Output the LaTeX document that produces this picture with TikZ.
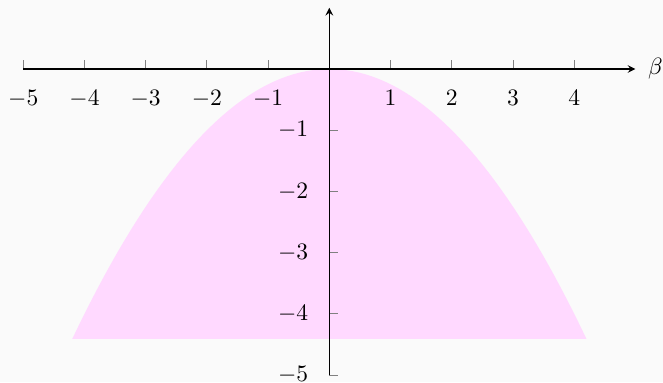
\documentclass[tikz,border=0pt]{standalone}
\usepackage{amsmath}
\usepackage{amssymb}
\usepackage{tikz}
\definecolor{bgcol}{HTML}{FAFAFA}
\definecolor{regioncol}{HTML}{FFD9FF}

\begin{document}
\begin{tikzpicture}
\fontsize{11}{13}\selectfont
\fill[bgcol] (-5.38,-5.114) rectangle (5.45,1.127);
\useasboundingbox (-5.38,-5.114) rectangle (5.45,1.127);
\fill[regioncol] (-4.2,-4.41) -- plot[domain=-4.2:4.2,samples=80] (\x,{-\x*\x/4}) -- cycle; % region under the parabola
\draw[gray] (-5,0) -- (-5,0.14) (-4,0) -- (-4,0.14) (-3,0) -- (-3,0.14) (-2,0) -- (-2,0.14) (-1,0) -- (-1,0.14);
\draw[gray] (1,0) -- (1,0.14) (2,0) -- (2,0.14) (3,0) -- (3,0.14) (4,0) -- (4,0.14);
\draw[gray] (0,-1) -- (0.14,-1) (0,-2) -- (0.14,-2) (0,-3) -- (0.14,-3) (0,-4) -- (0.14,-4) (0,-5) -- (0.14,-5);
\draw[semithick,-stealth] (-5,0) -- (5,0);
\draw[semithick,-stealth] (0,-5) -- (0,1);
\draw (5.07,0) node[right] (lbeta) {$\beta$};
\draw (-5,-0.22) node[below] (xm5) {$-5$};
\draw (-4,-0.22) node[below] (xm4) {$-4$};
\draw (-3,-0.22) node[below] (xm3) {$-3$};
\draw (-2,-0.22) node[below] (xm2) {$-2$};
\draw (-1,-0.22) node[below] (xm1) {$-1$};
\draw (1,-0.22) node[below] (xp1) {$1$};
\draw (2,-0.22) node[below] (xp2) {$2$};
\draw (3,-0.22) node[below] (xp3) {$3$};
\draw (4,-0.22) node[below] (xp4) {$4$};
\draw (-0.21,-1) node[left] (ym1) {$-1$};
\draw (-0.21,-2) node[left] (ym2) {$-2$};
\draw (-0.21,-3) node[left] (ym3) {$-3$};
\draw (-0.21,-4) node[left] (ym4) {$-4$};
\draw (-0.21,-5) node[left] (ym5) {$-5$};
\end{tikzpicture}
\end{document}
